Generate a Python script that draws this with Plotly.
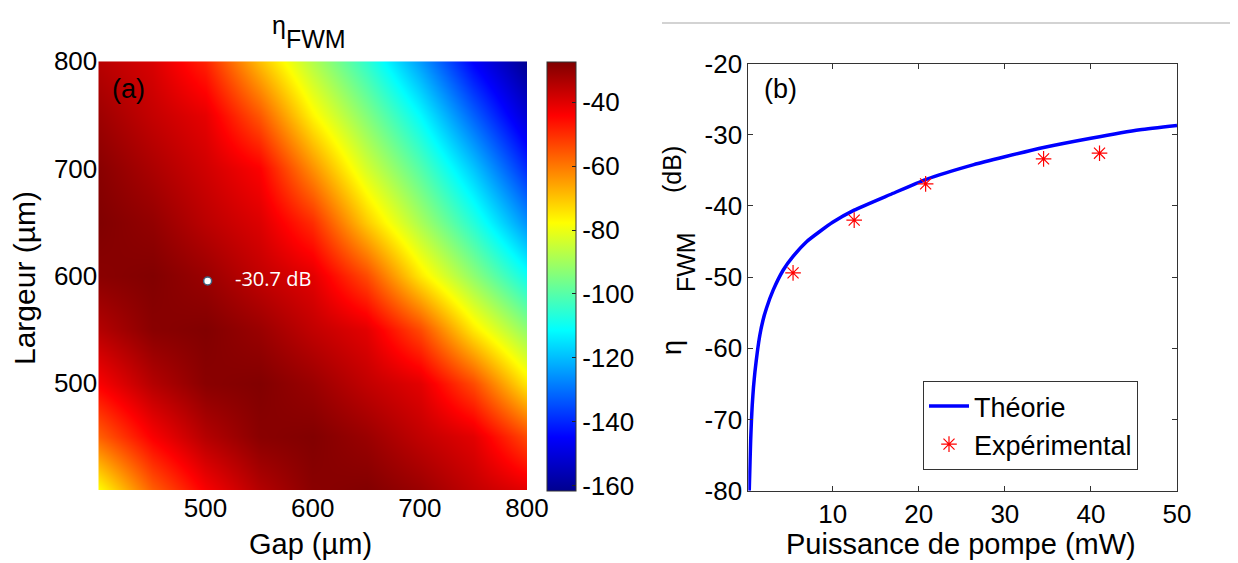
import plotly.graph_objects as go

# ---------------- data ----------------
gap_um = [400, 450, 500, 550, 600, 650, 700, 750, 800]
largeur_um = [400, 450, 500, 550, 600, 650, 700, 750, 800]
# eta_FWM (dB), rows = largeur (400 -> 800), columns = gap (400 -> 800)
eta_grid_db = [
    [-78.0, -56.8, -43.5, -34.3, -28.7, -27.7, -30.9, -36.1, -40.5],
    [-56.8, -43.5, -34.3, -28.7, -27.7, -30.9, -36.1, -40.5, -54.0],
    [-43.5, -34.3, -28.7, -27.7, -30.9, -36.1, -40.5, -54.0, -75.0],
    [-34.3, -28.7, -27.7, -30.9, -36.1, -40.5, -54.0, -75.0, -92.5],
    [-28.7, -27.7, -30.9, -36.1, -40.5, -54.0, -75.0, -92.5, -110.0],
    [-27.5, -30.0, -35.2, -39.6, -50.0, -70.8, -89.0, -106.5, -126.0],
    [-28.6, -33.2, -38.0, -43.9, -63.1, -83.2, -100.2, -118.8, -139.6],
    [-31.3, -36.5, -41.0, -55.6, -76.5, -93.9, -111.6, -132.0, -151.7],
    [-34.8, -39.2, -48.6, -69.1, -87.7, -105.1, -124.4, -145.3, -161.6],
]
point_gap = [502]
point_largeur = [595]
point_label = "-30.7 dB"

colorbar_ticks = [-40, -60, -80, -100, -120, -140, -160]
colorbar_text = ["-40", "-60", "-80", "-100", "-120", "-140", "-160"]

theory_p_mw = [0.31, 0.4, 0.47, 0.56, 0.66, 0.8, 0.97, 1.25, 1.55, 1.9, 2.3, 3.1,
               4.26, 5.4, 7.0, 8.5, 10, 12.5, 16.7, 20.8, 26.4, 30, 34.5, 40,
               45.7, 50]
theory_db = [-80, -76.0, -73.1, -70.3, -67.9, -65.5, -63.3, -60.5, -58.1, -56.1,
             -54.4, -51.8, -49.0, -47.1, -45.0, -43.6, -42.3, -40.6, -38.4,
             -36.3, -34.2, -33.1, -31.8, -30.5, -29.3, -28.7]
exp_p_mw = [5.4, 12.5, 20.8, 34.5, 41.0]
exp_db = [-49.4, -42.0, -36.9, -33.4, -32.6]

gap_ticks = [500, 600, 700, 800]
largeur_ticks = [500, 600, 700, 800]
p_ticks = [10, 20, 30, 40, 50]
db_ticks = [-80, -70, -60, -50, -40, -30, -20]
db_text = ["-80", "-70", "-60", "-50", "-40", "-30", "-20"]

# ---------------- style ----------------
# the page body adds an 8 px margin, so the figure is drawn 8 px smaller
OFF = 8
W, H = 1238 - OFF, 563 - OFF
FONT = "Liberation Sans, Arial, sans-serif"
TICK = 26
TITLE = 29


def px(x):
    return (x - OFF) / W


def py(y):
    return 1 - (y - OFF) / H


jet = [
    [0.0, "rgb(0,0,143)"],
    [0.125, "rgb(0,0,255)"],
    [0.375, "rgb(0,255,255)"],
    [0.625, "rgb(255,255,0)"],
    [0.875, "rgb(255,0,0)"],
    [1.0, "rgb(128,0,0)"],
]

fig = go.Figure()

fig.add_trace(go.Heatmap(
    x=gap_um, y=largeur_um, z=eta_grid_db,
    colorscale=jet, zmin=-161.6, zmax=-27.4, zsmooth="best",
    xaxis="x", yaxis="y",
    colorbar=dict(
        x=px(546.7), xanchor="left", xpad=0, ypad=0,
        y=py((61.7 + 491) / 2), yanchor="middle",
        len=(491 - 61.7) / H, lenmode="fraction",
        thickness=29, thicknessmode="pixels",
        outlinewidth=1, outlinecolor="#333333",
        tickvals=colorbar_ticks, ticktext=colorbar_text,
        ticks="inside", ticklen=4, tickcolor="#222222",
        tickfont=dict(family=FONT, size=TICK, color="black"),
    ),
    showscale=True,
    hoverinfo="skip",
))

fig.add_trace(go.Scatter(
    x=point_gap, y=point_largeur, mode="markers",
    marker=dict(size=8, color="white", line=dict(color="rgb(60,100,130)", width=1.5)),
    xaxis="x", yaxis="y", showlegend=False,
))

fig.add_trace(go.Scatter(
    x=theory_p_mw, y=theory_db, mode="lines", name="Théorie",
    line=dict(color="rgb(0,0,255)", width=3.5, shape="spline", smoothing=0.5),
    xaxis="x2", yaxis="y2",
))
fig.add_trace(go.Scatter(
    x=exp_p_mw, y=exp_db, mode="markers", name="Expérimental",
    marker=dict(symbol="asterisk-open", size=13, color="red",
                line=dict(color="red", width=1.2)),
    xaxis="x2", yaxis="y2",
))

axis_common = dict(
    tickfont=dict(family=FONT, size=TICK, color="black"),
    showgrid=False, zeroline=False,
)

fig.update_layout(
    width=W, height=H,
    margin=dict(l=0, r=0, t=0, b=0, autoexpand=False),
    paper_bgcolor="white", plot_bgcolor="white",
    font=dict(family=FONT, color="black"),
    xaxis=dict(domain=[px(98.3), px(527)], range=[400, 800], tickvals=gap_ticks,
               ticks="", anchor="y", **axis_common),
    yaxis=dict(domain=[py(490), py(61.3)], range=[400, 800], tickvals=largeur_ticks,
               ticks="", anchor="x", **axis_common),
    xaxis2=dict(domain=[px(748.3), px(1177)], range=[0.2, 50], tickvals=p_ticks,
                ticks="inside", ticklen=5, tickcolor="#333333", showline=True,
                linecolor="#333333", linewidth=1, mirror="ticks", anchor="y2",
                **axis_common),
    yaxis2=dict(domain=[py(490.7), py(63.5)], range=[-80, -20], tickvals=db_ticks,
                ticktext=db_text,
                ticks="inside", ticklen=5, tickcolor="#333333", showline=True,
                linecolor="#333333", linewidth=1, mirror="ticks", anchor="x2",
                **axis_common),
    legend=dict(
        x=px(923), y=py(381), xanchor="left", yanchor="top",
        bordercolor="#333333", borderwidth=1, bgcolor="white",
        font=dict(family=FONT, size=27, color="black"),
        tracegroupgap=0, itemwidth=40,
    ),
    showlegend=True,
)

annotations = [
    # title eta_FWM over the map
    dict(text="η", x=px(279), y=py(25), font=dict(size=25)),
    dict(text="FWM", x=px(316), y=py(39), font=dict(size=25)),
    # axis titles
    dict(text="Gap (µm)", x=px(310), y=py(544), font=dict(size=TITLE)),
    dict(text="Largeur (µm)", x=px(24), y=py(278), textangle=-90, font=dict(size=30)),
    dict(text="Puissance de pompe (mW)", x=px(961), y=py(544), font=dict(size=TITLE)),
    dict(text="η", x=px(672), y=py(348), textangle=-90, font=dict(size=27)),
    dict(text="FWM", x=px(686), y=py(262), textangle=-90, font=dict(size=25)),
    dict(text="(dB)", x=px(672), y=py(170), textangle=-90, font=dict(size=25)),
    # panel letters
    dict(text="(a)", x=px(110), y=py(89), xanchor="left", font=dict(size=27)),
    dict(text="(b)", x=px(762), y=py(89), xanchor="left", font=dict(size=27)),
]
for a in annotations:
    a.setdefault("xref", "paper")
    a.setdefault("yref", "paper")
    a.setdefault("xanchor", "center")
    a.setdefault("yanchor", "middle")
    a["showarrow"] = False
    a["font"] = dict(family=FONT, color="black", **a["font"])
    fig.add_annotation(**a)

fig.add_annotation(
    text=point_label, x=526, y=597, xref="x", yref="y",
    xanchor="left", yanchor="middle", showarrow=False,
    font=dict(family="Open Sans, sans-serif", size=20, color="white"),
)

fig.add_shape(type="line", xref="paper", yref="paper",
              x0=px(662), x1=1, y0=py(23), y1=py(23),
              line=dict(color="#c4c4c4", width=1.5))

fig.write_html("out.html")
